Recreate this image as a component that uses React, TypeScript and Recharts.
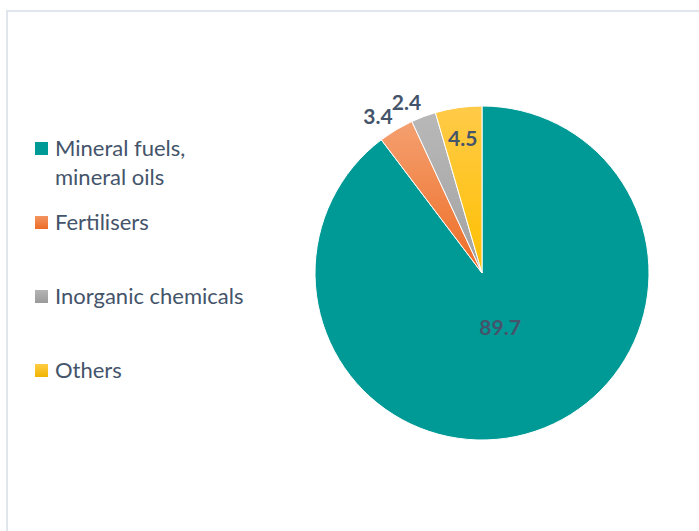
/* Import structure pie — Mineral fuels vs others */
import { PieChart, Pie, Cell } from 'recharts';

const categories = ['Mineral fuels, mineral oils', 'Fertilisers', 'Inorganic chemicals', 'Others'];
const shares = [89.7, 3.4, 2.4, 4.5];

const FILLS = ['#009a96', 'url(#gOrange)', 'url(#gGrey)', 'url(#gYellow)'];
const SWATCH = [
  ['#009a96', '#009a96'],
  ['#f39460', '#ec6b25'],
  ['#b4b4b4', '#9a9a9a'],
  ['#ffcd45', '#f0b400'],
];
const TEXT = '#44546a';
const FONT = 'Lato, "Open Sans", sans-serif';
const RADIAN = Math.PI / 180;

const data = categories.map((name, i) => ({ name, value: shares[i] }));

function renderLabel(props: any) {
  const { cx, cy, midAngle, outerRadius, value } = props;
  const style = { fontFamily: FONT, fontWeight: 700, fontSize: 21 };
  const at = (f: number) => ({
    x: cx + outerRadius * f * Math.cos(-midAngle * RADIAN),
    y: cy + outerRadius * f * Math.sin(-midAngle * RADIAN),
  });
  if (value < 4) {
    // tiny slices: label sits outside, anchored at its bottom-right corner
    const p = at(1.04);
    return (
      <text x={p.x} y={p.y} fill={TEXT} textAnchor="end" style={style}>
        {value.toFixed(1)}
      </text>
    );
  }
  const p = at(value > 50 ? 0.34 : 0.82);
  return (
    <text x={p.x} y={p.y} fill={TEXT} textAnchor="middle" dominantBaseline="central" style={style}>
      {value.toFixed(1)}
    </text>
  );
}

function LegendBox() {
  return (
    <div style={{ position: 'absolute', left: 35, top: 133, width: 260, fontFamily: FONT, fontSize: 22, color: TEXT }}>
      {categories.map((c, i) => (
        <div key={c} style={{ display: 'flex', alignItems: 'flex-start', height: 74 }}>
          <svg width={13} height={13} style={{ marginTop: 9, marginRight: 7, flexShrink: 0 }}>
            <defs>
              <linearGradient id={`lg${i}`} x1="0" y1="0" x2="0" y2="1">
                <stop offset="0" stopColor={SWATCH[i][0]} />
                <stop offset="1" stopColor={SWATCH[i][1]} />
              </linearGradient>
            </defs>
            <rect width={13} height={13} fill={`url(#lg${i})`} />
          </svg>
          <span style={{ lineHeight: '29px', maxWidth: 198 }}>{c}</span>
        </div>
      ))}
    </div>
  );
}

export default function App() {
  return (
    <div style={{ position: 'absolute', left: 0, top: 0, width: 699, height: 531, background: '#fff', overflow: 'hidden' }}>
      <div style={{
        position: 'absolute', left: 6, top: 10, width: 760, height: 600,
        borderTop: '2px solid #e1e5ec', borderLeft: '2px solid #e1e5ec',
      }} />
      <PieChart width={699} height={531} margin={{ top: 0, right: 0, bottom: 0, left: 0 }}
        style={{ position: 'absolute', left: 0, top: 0 }}>
        <defs>
          <linearGradient id="gOrange" x1="0" y1="0" x2="0" y2="1">
            <stop offset="0" stopColor="#f4a070" />
            <stop offset="1" stopColor="#ee6c24" />
          </linearGradient>
          <linearGradient id="gGrey" x1="0" y1="0" x2="0" y2="1">
            <stop offset="0" stopColor="#b8b8b8" />
            <stop offset="1" stopColor="#a2a2a2" />
          </linearGradient>
          <linearGradient id="gYellow" x1="0" y1="0" x2="0" y2="1">
            <stop offset="0" stopColor="#ffca48" />
            <stop offset="1" stopColor="#ffc000" />
          </linearGradient>
        </defs>
        <Pie
          data={data} dataKey="value" nameKey="name"
          cx={482} cy={273} outerRadius={167}
          startAngle={90} endAngle={-270}
          stroke="#ffffff" strokeWidth={1}
          label={renderLabel} labelLine={false}
          isAnimationActive={false}
        >
          {data.map((d, i) => <Cell key={d.name} fill={FILLS[i]} />)}
        </Pie>
      </PieChart>
      <LegendBox />
    </div>
  );
}
